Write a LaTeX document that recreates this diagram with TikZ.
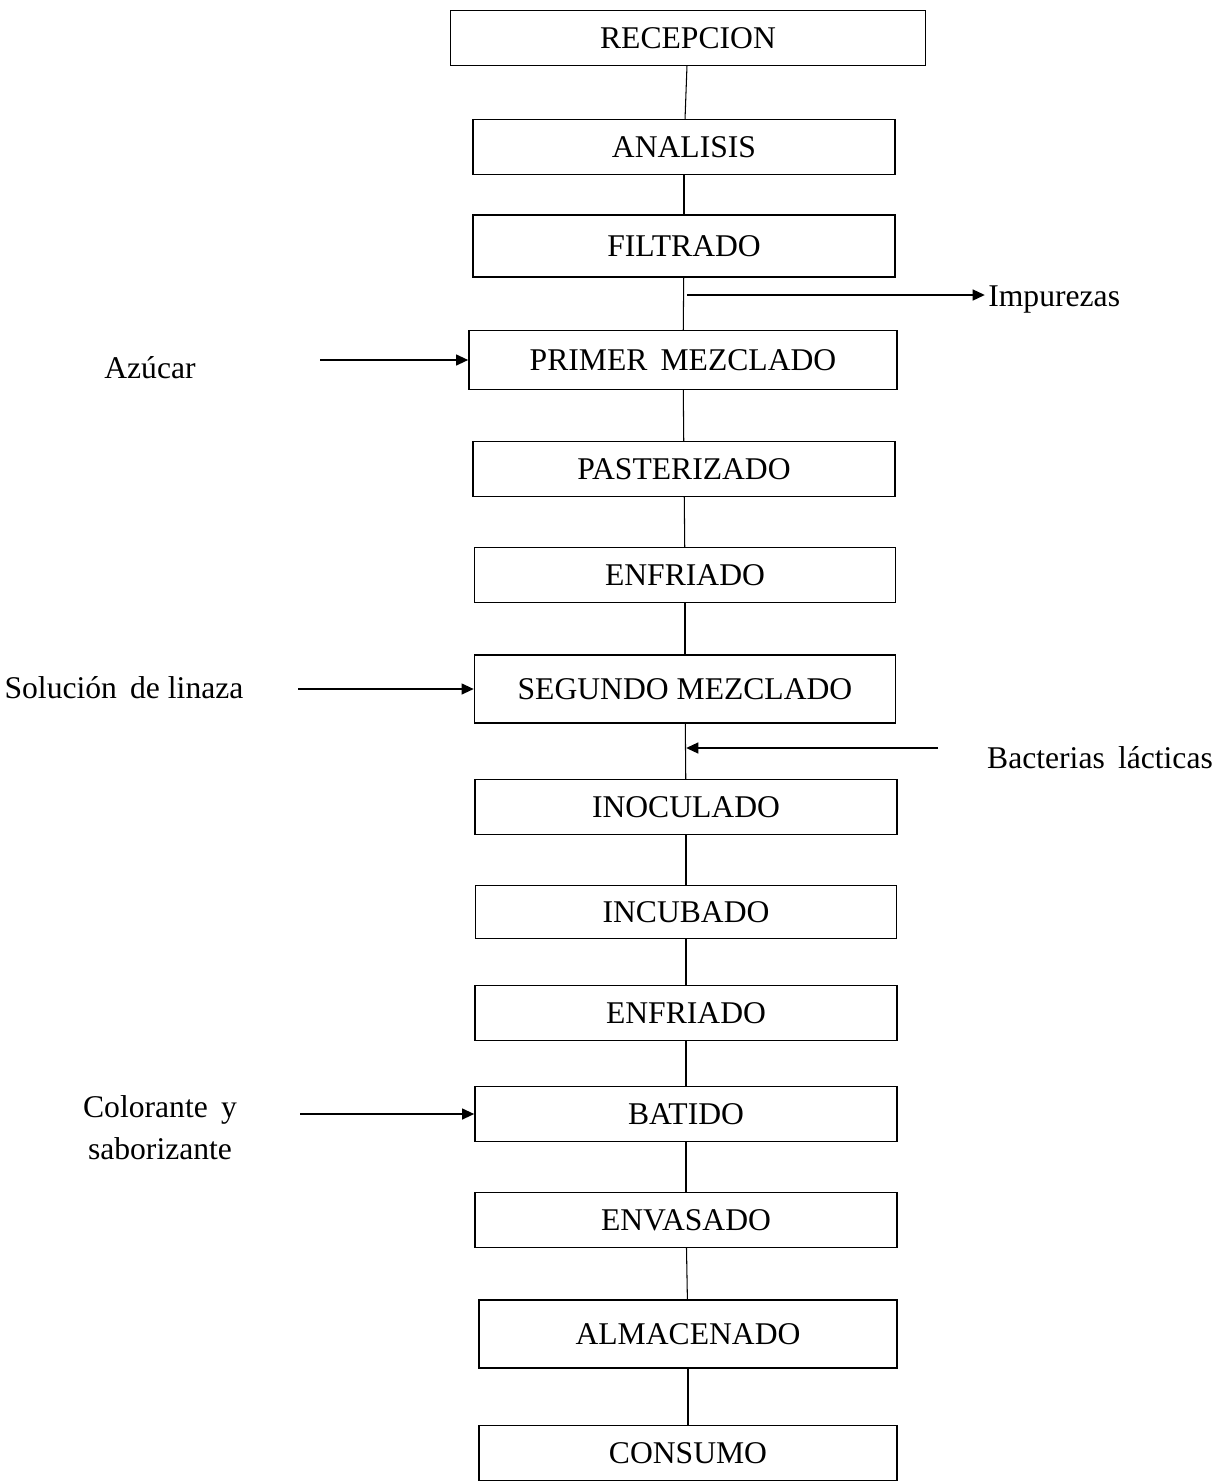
\documentclass[tikz,border=0pt]{standalone}
\usepackage{fontspec}
\setmainfont{Liberation Serif}
\usetikzlibrary{arrows.meta}
\tikzset{
    process-box/.style = {draw=black, fill=white, line width=0.75pt, rectangle, minimum width=8.44cm, minimum height=1.1cm, inner sep=0pt, font=\fontsize{18}{21}\selectfont},
    side-label/.style = {font=\fontsize{18}{24}\selectfont, align=center, inner sep=0pt},
    step-line/.style = {line width=0.6pt},
    feed-arrow/.style = {line width=1.5pt, -{Triangle[length=7pt, width=6pt]}},
}

\begin{document}
\begin{tikzpicture}[x=0.02cm, y=-0.02cm]
\useasboundingbox (0,0) rectangle (1211,1481);
\node [process-box, minimum width=9.5cm] (rec) at (688,38) {RECEPCION};
\node [process-box] (ana) at (684,147) {ANALISIS};
\node [process-box, minimum height=1.24cm] (fil) at (684,246) {FILTRADO};
\node [process-box, minimum width=8.56cm, minimum height=1.18cm] (mez1) at (683,360) {PRIMER\, MEZCLADO};
\node [process-box] (pas) at (684,469) {PASTERIZADO};
\node [process-box, minimum width=8.42cm] (enf1) at (685,575) {ENFRIADO};
\node [process-box, minimum width=8.42cm, minimum height=1.36cm] (mez2) at (685,689) {SEGUNDO MEZCLADO};
\node [process-box] (ino) at (686,807) {INOCULADO};
\node [process-box, minimum width=8.42cm, minimum height=1.06cm] (inc) at (686,912) {INCUBADO};
\node [process-box] (enf2) at (686,1013) {ENFRIADO};
\node [process-box] (bat) at (686,1114) {BATIDO};
\node [process-box] (env) at (686,1220) {ENVASADO};
\node [process-box, minimum width=8.36cm, minimum height=1.36cm] (alm) at (688,1334) {ALMACENADO};
\node [process-box, minimum width=8.36cm] (con) at (688,1453) {CONSUMO};

\draw [step-line] (rec) -- (ana);
\draw [step-line] (ana) -- (fil);
\draw [step-line] (fil) -- (mez1);
\draw [step-line] (mez1) -- (pas);
\draw [step-line] (pas) -- (enf1);
\draw [step-line] (enf1) -- (mez2);
\draw [step-line] (mez2) -- (ino);
\draw [step-line] (ino) -- (inc);
\draw [step-line] (inc) -- (enf2);
\draw [step-line] (enf2) -- (bat);
\draw [step-line] (bat) -- (env);
\draw [step-line] (env) -- (alm);
\draw [step-line] (alm) -- (con);

\coordinate (imp-out) at (687,295);
\coordinate (imp-end) at (985,295);
\node [side-label, anchor=west] (imp) at (988,300) {Impurezas};
\draw [feed-arrow] (imp-out) -- (imp-end);

\node [side-label] (azu) at (150,368) {Azúcar};
\coordinate (azu-start) at (320,360);
\draw [feed-arrow] (azu-start) -- (mez1.west);

\node [side-label] (lin) at (124,688) {Solución\, de linaza};
\coordinate (lin-start) at (298,689);
\draw [feed-arrow] (lin-start) -- (mez2.west);

\node [side-label] (bac) at (1100,758) {Bacterias\, lácticas};
\coordinate (bac-start) at (938,748);
\coordinate (bac-in) at (686,748);
\draw [feed-arrow] (bac-start) -- (bac-in);

\node [side-label] (col) at (160,1128) {Colorante\, y\\saborizante};
\coordinate (col-start) at (300,1114);
\draw [feed-arrow] (col-start) -- (bat.west);
\end{tikzpicture}
\end{document}
